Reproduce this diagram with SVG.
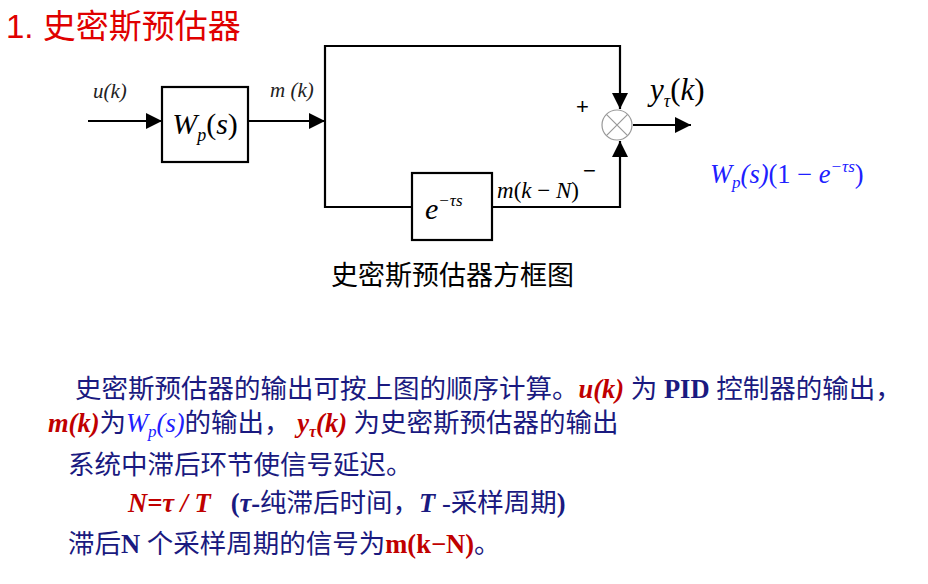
<svg xmlns="http://www.w3.org/2000/svg" width="928" height="584" viewBox="0 0 928 584">
<style>
.ln{stroke:#000;stroke-width:2.2;fill:none}
.bx{stroke:#000;stroke-width:2.2;fill:#fff}
.it{font-family:"Liberation Serif",serif;font-style:italic}
.t{font-family:"Liberation Serif","Noto Sans CJK SC",serif;font-size:26.5px;fill:#1a1a80;white-space:pre}
.r{fill:#c00000;font-style:italic;font-weight:bold}
.b{fill:#1a1a80;font-weight:bold}
</style>
<defs>
<marker id="ar2" markerWidth="16" markerHeight="16" refX="16" refY="8" orient="auto" markerUnits="userSpaceOnUse"><path d="M0,0 L16,8 L0,16 Z" fill="#000"/></marker>
</defs>
<text x="6" y="38" font-family="Liberation Sans,'Noto Sans CJK SC',sans-serif" font-size="33" fill="#e00000">1. 史密斯预估器</text>
<g id="connectors">
<path class="ln" d="M88,121 H162" marker-end="url(#ar2)"/>
<path class="ln" d="M248,121 H325" marker-end="url(#ar2)"/>
<path class="ln" d="M325,121 V46 H620 V109" marker-end="url(#ar2)"/>
<path class="ln" d="M325,121 V207 H412"/>
<path class="ln" d="M492,207 H620 V141" marker-end="url(#ar2)"/>
<path class="ln" d="M633,125 H691" marker-end="url(#ar2)"/>
</g>
<g id="wp"><rect class="bx" x="162" y="87" width="86" height="75"/>
<text x="205" y="134" class="it" font-size="30" text-anchor="middle">W<tspan font-size="18" dy="7">p</tspan><tspan dy="-7" font-style="normal">(</tspan>s<tspan font-style="normal">)</tspan></text></g>
<g id="delay"><rect class="bx" x="412" y="173" width="80" height="67"/>
<text x="425" y="219" class="it" font-size="30">e<tspan font-size="17" dy="-13">−τs</tspan></text></g>
<g id="sum"><circle cx="617" cy="125" r="15" fill="#fff" stroke="#999" stroke-width="1.2"/>
<path d="M606.4,114.4 L627.6,135.6 M627.6,114.4 L606.4,135.6" stroke="#999" stroke-width="1.2"/>
<text x="576" y="114" font-family="Liberation Sans,sans-serif" font-size="22">+</text>
<text x="583" y="178" font-family="Liberation Sans,sans-serif" font-size="22">−</text></g>
<text x="93" y="98" class="it" font-size="21" fill="#222">u(k)</text>
<text x="270" y="97" class="it" font-size="21" fill="#222">m (k)</text>
<text x="650" y="100" class="it" font-size="31">y<tspan font-size="18" dy="7">τ</tspan><tspan dy="-7" font-style="normal">(</tspan>k<tspan font-style="normal">)</tspan></text>
<text x="497" y="198" class="it" font-size="23">m<tspan font-style="normal">(</tspan>k <tspan font-style="normal">− </tspan>N<tspan font-style="normal">)</tspan></text>
<text x="710" y="183" font-family="Liberation Serif,serif" font-size="26.5" fill="#2020ff"><tspan font-style="italic">W<tspan font-size="17" dy="5">p</tspan><tspan dy="-5">(s)</tspan></tspan>(1 − <tspan font-style="italic">e<tspan font-size="17" dy="-11">−τs</tspan></tspan><tspan dy="11">)</tspan></text>
<text x="331" y="285" font-family="Liberation Sans,'Noto Sans CJK SC',sans-serif" font-size="27" fill="#000">史密斯预估器方框图</text>
<text class="t" x="75" y="398">史密斯预估器的输出可按上图的顺序计算。<tspan class="r">u(k)</tspan> 为 <tspan class="b">PID</tspan> 控制器的输出，</text>
<text class="t" x="48" y="432"><tspan class="r">m(k)</tspan>为<tspan fill="#2020ff" font-style="italic">W<tspan font-size="17" dy="5">p</tspan><tspan dy="-5">(s)</tspan></tspan>的输出， <tspan class="r">y<tspan font-size="16" dy="5">τ</tspan><tspan dy="-5">(k)</tspan></tspan> 为史密斯预估器的输出</text>
<text class="t" x="68" y="474">系统中滞后环节使信号延迟。</text>
<text class="t" x="128" y="512"><tspan class="r">N=τ / T</tspan>   <tspan font-weight="bold">(<tspan font-style="italic">τ</tspan>-</tspan>纯滞后时间，<tspan font-weight="bold" font-style="italic">T</tspan> -采样周期<tspan font-weight="bold">)</tspan></text>
<text class="t" x="68" y="553">滞后<tspan font-weight="bold">N</tspan> 个采样周期的信号为<tspan fill="#c00000" font-weight="bold">m(k−N)</tspan>。</text>
</svg>
